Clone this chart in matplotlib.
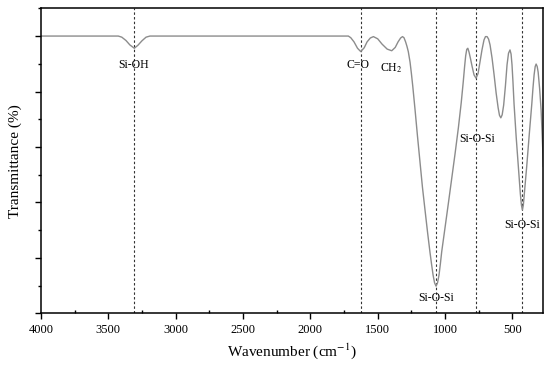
import matplotlib.pyplot as plt
from matplotlib.ticker import MultipleLocator, NullFormatter

plt.rcParams['font.family'] = ['Liberation Serif', 'DejaVu Serif']
plt.rcParams['mathtext.fontset'] = 'stix'

# spectrum (wavenumber, transmittance)
wavenumber = [4000, 3600, 3426, 3400, 3369, 3340, 3307, 3280, 3250, 3220, 3191,
              2500, 1718, 1700, 1676, 1650, 1626, 1600, 1579, 1555, 1532, 1500,
              1468, 1430, 1396, 1370, 1349, 1330, 1316, 1305, 1293, 1283, 1273,
              1260, 1250, 1240, 1223, 1205, 1186, 1168, 1149, 1130, 1112, 1100,
              1089, 1078, 1067, 1056, 1045, 1035, 1025, 1000, 976, 951, 926,
              901, 880, 865, 855, 847, 839, 831, 822, 811, 800, 785, 770, 755,
              741, 726, 711, 700, 688, 677, 666, 651, 636, 621, 606, 596, 586,
              576, 565, 552, 540, 529, 518, 510, 503, 496, 488, 472, 456, 441,
              433, 426, 419, 410, 394, 375, 356, 347, 339, 331, 324, 316, 309,
              298, 287, 278, 270]
transmittance = [100, 100, 100, 99.6, 98.4, 96.8, 95.6, 96.7, 98.3, 99.6, 100,
                 100, 100, 99.4, 97.9, 95.6, 94.4, 95.8, 97.9, 99.3, 99.8, 99.0,
                 97.1, 95.3, 94.7, 95.9, 97.9, 99.3, 99.8, 99.4, 97.9, 96.3, 94.4,
                 90.6, 86.5, 82.0, 73.5, 64.0, 54.5, 45.5, 37.3, 29.2, 22.0, 17.6,
                 13.8, 11.0, 9.8, 11.0, 13.8, 17.8, 22.2, 31.0, 39.5, 48.5, 57.5,
                 67.0, 76.0, 83.5, 89.0, 92.9, 95.2, 95.6, 94.2, 91.8, 89.2, 86.0,
                 84.8, 86.5, 90.6, 95.0, 98.6, 99.8, 99.8, 98.9, 96.8, 92.0, 86.0,
                 79.5, 74.1, 71.4, 70.5, 71.6, 75.1, 82.0, 89.6, 93.8, 95.0, 93.5,
                 89.6, 83.5, 75.6, 63.5, 52.9, 43.0, 39.0, 37.3, 39.0, 44.0, 52.9,
                 64.5, 75.6, 81.5, 86.0, 89.0, 89.9, 89.0, 87.0, 81.0, 73.3, 63.0,
                 53.0]

# marked bands
band_pos = [3310, 1626, 1067, 770, 426]
label_text = ['Si-OH', 'C=O', r'CH$_2$', 'Si-O-Si', 'Si-O-Si', 'Si-O-Si']
label_x = [3310, 1650, 1400, 760, 1067, 430]
label_y = [89.5, 89.5, 88.5, 63, 5.5, 32]

fig = plt.figure(figsize=(5.5, 3.67), dpi=100)
ax = fig.add_axes([0.0745, 0.1463, 0.9135, 0.8310])

for b in band_pos:
    ax.axvline(b, color='#333333', lw=0.8, ls=(0, (2.2, 2.0)), zorder=1)

ax.plot(wavenumber, transmittance, color='#8c8c8c', lw=1.0, zorder=2)

for t, x, y in zip(label_text, label_x, label_y):
    ax.text(x, y, t, ha='center', va='center', fontsize=8.5, zorder=3)

ax.set_xlim(4000, 270)
ax.set_ylim(0, 110)
ax.xaxis.set_major_locator(MultipleLocator(500))
ax.xaxis.set_minor_locator(MultipleLocator(250))
ax.yaxis.set_major_locator(MultipleLocator(20))
ax.yaxis.set_minor_locator(MultipleLocator(10))
ax.yaxis.set_major_formatter(NullFormatter())
ax.tick_params(which='major', direction='out', length=4, width=1, labelsize=9)
ax.tick_params(which='minor', direction='out', length=2.5, width=1)
ax.tick_params(axis='x', which='minor', direction='in')
for s in ax.spines.values():
    s.set_linewidth(1.1)

ax.set_xlabel('Wavenumber (cm$^{-1}$)', fontsize=11, labelpad=4)
ax.set_ylabel('Transmittance (%)', fontsize=11, labelpad=6)

fig.savefig('out.png', dpi=100)
